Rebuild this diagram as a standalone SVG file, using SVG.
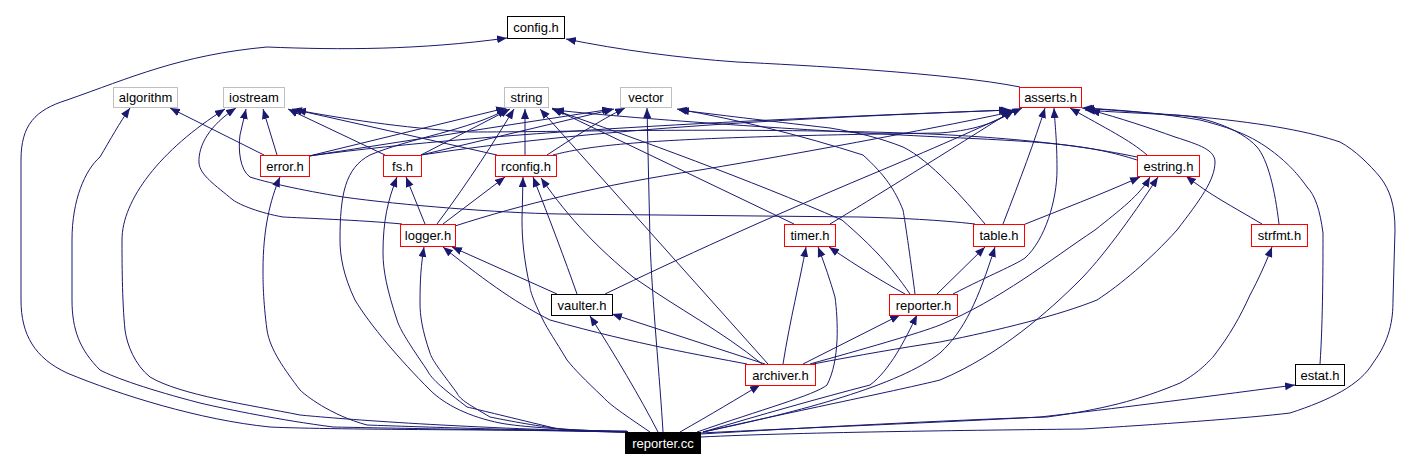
<svg xmlns="http://www.w3.org/2000/svg" width="1413" height="471" viewBox="0 0 1413 471">
<style>
.e{fill:none;stroke:#191970;stroke-width:1;marker-end:url(#ah)}
.n rect{fill:#fff;stroke-width:1}
.g rect{stroke:#bfbfbf}
.r rect{stroke:#ff0000}
.b rect{stroke:#000}
text{font-family:"Liberation Sans",Arial,sans-serif;font-size:13px;text-anchor:middle;fill:#000}
</style>
<defs>
<marker id="ah" markerUnits="userSpaceOnUse" markerWidth="12" markerHeight="9" refX="10" refY="4" orient="auto">
<path d="M0,0 L10,4 L0,8 z" fill="#191970"/>
</marker>
</defs>
<rect width="1413" height="471" fill="#fff"/>
<g id="edges">
<path class="e" d="M627,431 C560,430 330,430 270,427 C200,420 120,395 67,373 C35,358 21,335 21,300 L21,160 C21,125 35,110 67,100 C130,78 180,55 267,47 C340,50 420,50 507,38"/>
<path class="e" d="M1020,87 C950,73 800,65 737,62 C680,58 620,50 566,39"/>
<path class="e" d="M628,432 C500,430 380,428 333,427 C280,420 230,410 200,403 C150,390 115,378 100,370 C80,350 72,330 72,300 L72,240 C72,200 85,170 100,157 C110,140 120,122 130,108"/>
<path class="e" d="M264,155 L170,108"/>
<path class="e" d="M628,432 C450,428 330,418 300,415 C250,405 180,395 150,377 C135,365 127,345 125,330 C122,300 122,260 122,240 C122,200 160,150 225,109"/>
<path class="e" d="M402,224 C360,220 300,218 283,217 C260,213 240,205 233,200 C215,185 200,175 199,163 C198,145 210,125 236,108"/>
<path class="e" d="M975,224 C940,220 900,218 860,217 L560,214 C500,213 400,205 343,197 C300,190 265,182 250,177 C240,170 238,150 240,135 L246,109"/>
<path class="e" d="M277,155 L263,109"/>
<path class="e" d="M385,155 L288,109"/>
<path class="e" d="M497,155 L292,109"/>
<path class="e" d="M1137,157 C1080,145 1000,135 870,132 C700,128 560,132 470,132 C400,128 340,118 296,110"/>
<path class="e" d="M309,156 L506,108"/>
<path class="e" d="M309,156 L612,109"/>
<path class="e" d="M309,156 C500,130 800,118 1009,110"/>
<path class="e" d="M421,155 L510,109"/>
<path class="e" d="M421,155 L614,109"/>
<path class="e" d="M421,155 C600,128 800,118 1011,110"/>
<path class="e" d="M437,224 C470,180 495,140 514,109"/>
<path class="e" d="M525,155 L525,109"/>
<path class="e" d="M628,432 C570,430 520,427 500,423 C470,417 445,405 430,390 C400,360 370,325 355,300 C343,275 340,255 340,240 C340,195 345,168 370,155 C410,138 470,130 507,109"/>
<path class="e" d="M547,155 C570,140 600,120 625,108"/>
<path class="e" d="M553,155 C600,143 670,137 940,133 C980,130 1000,120 1013,111"/>
<path class="e" d="M425,224 L406,177"/>
<path class="e" d="M443,224 L505,177"/>
<path class="e" d="M455,226 C520,205 600,185 700,170 C820,150 950,125 1011,112"/>
<path class="e" d="M628,432 C520,430 420,427 367,425 C330,415 305,395 300,390 C285,370 270,350 267,330 C263,300 263,280 263,270 C263,230 270,200 280,177"/>
<path class="e" d="M628,432 C580,430 560,430 550,427 C500,415 480,410 467,407 C445,390 432,380 427,370 C410,345 400,330 397,320 C387,290 383,270 383,253 C383,220 388,200 397,177"/>
<path class="e" d="M628,432 C600,432 580,431 567,430 C530,425 505,420 490,417 C470,405 460,400 457,393 C440,370 432,360 430,353 C422,330 420,315 420,303 C420,280 421,265 424,247"/>
<path class="e" d="M650,432 C625,415 610,405 603,397 C585,380 575,370 567,360 C555,340 548,330 543,320 C533,300 530,290 530,287 C524,260 522,240 522,220 L523,177"/>
<path class="e" d="M577,294 C565,260 550,220 533,177"/>
<path class="e" d="M762,364 C720,330 680,310 633,277 C600,250 570,220 541,178"/>
<path class="e" d="M768,364 L540,109"/>
<path class="e" d="M747,364 C700,355 640,345 550,320 C520,305 490,285 443,247"/>
<path class="e" d="M557,294 L452,247"/>
<path class="e" d="M765,364 L612,314"/>
<path class="e" d="M658,432 C640,397 615,355 590,316"/>
<path class="e" d="M663,432 C660,380 652,300 650,240 L647,108"/>
<path class="e" d="M680,432 C710,415 740,397 760,385"/>
<path class="e" d="M783,364 C790,320 800,280 806,247"/>
<path class="e" d="M697,432 C760,410 815,395 827,385 C840,360 838,320 835,297 C830,280 825,265 818,247"/>
<path class="e" d="M905,294 C880,280 860,268 829,247"/>
<path class="e" d="M803,364 L900,315"/>
<path class="e" d="M703,432 C760,415 820,398 870,385 C890,370 905,340 917,315"/>
<path class="e" d="M937,294 L985,247"/>
<path class="e" d="M703,432 C800,412 900,385 940,353 C965,330 978,300 995,247"/>
<path class="e" d="M953,294 C990,275 1015,265 1025,258 C1045,240 1057,200 1057,170 C1057,140 1055,125 1054,108"/>
<path class="e" d="M1003,224 C1020,180 1035,140 1045,108"/>
<path class="e" d="M1023,225 C1060,210 1100,195 1140,177"/>
<path class="e" d="M1262,224 C1230,205 1210,195 1186,176"/>
<path class="e" d="M810,364 C860,350 920,333 940,325 C1000,300 1050,260 1095,230 C1120,210 1140,195 1150,177"/>
<path class="e" d="M703,432 C800,410 900,390 940,380 C1000,355 1050,310 1080,280 C1100,260 1130,220 1158,177"/>
<path class="e" d="M813,364 C860,355 900,348 940,342 C1000,330 1060,315 1097,300 C1120,285 1150,260 1177,230 C1200,200 1215,180 1215,162 C1215,150 1200,145 1175,137 C1150,128 1120,118 1090,110"/>
<path class="e" d="M1147,155 C1130,140 1105,128 1070,108"/>
<path class="e" d="M1279,224 C1275,190 1268,160 1257,147 C1240,128 1200,115 1173,115 C1140,113 1110,112 1085,110"/>
<path class="e" d="M1320,364 C1323,320 1323,260 1323,233 C1320,210 1315,195 1307,187 C1295,170 1285,162 1283,160 C1260,140 1240,130 1200,120 C1160,113 1120,110 1084,108"/>
<path class="e" d="M701,437 C800,432 1000,430 1083,429 C1150,425 1250,418 1290,413 C1330,400 1360,385 1373,363 C1390,340 1393,320 1393,300 L1395,230 C1395,205 1390,190 1380,177 C1370,165 1355,150 1340,142 C1310,132 1270,124 1200,117 C1150,113 1110,110 1082,108"/>
<path class="e" d="M701,434 C800,428 950,420 1047,417 C1100,410 1140,400 1180,383 C1200,372 1210,360 1213,357 C1230,335 1240,317 1250,295 C1258,280 1265,265 1272,247"/>
<path class="e" d="M701,433 C800,428 950,422 1040,417 C1120,408 1180,400 1295,385"/>
<path class="e" d="M794,224 L552,108"/>
<path class="e" d="M830,224 C870,200 950,150 1015,109"/>
<path class="e" d="M605,294 C680,258 763,220 870,175 C930,150 980,128 1022,108"/>
<path class="e" d="M910,294 C890,265 873,247 842,220 C750,180 640,140 552,109"/>
<path class="e" d="M915,294 C912,270 905,220 903,210 C895,190 885,175 863,155 C800,135 740,120 677,109"/>
<path class="e" d="M985,224 C965,200 930,160 903,147 C880,138 860,133 830,128 C760,120 720,115 679,110"/>
<path class="e" d="M1137,160 C1090,145 1053,142 940,137 C800,130 650,120 554,110"/>
</g>
<g id="config_h" class="n b"><rect x="507.5" y="16.5" width="57" height="22"/><text x="536" y="32">config.h</text></g>
<g id="algorithm" class="n g"><rect x="113.5" y="87.5" width="64" height="20"/><text x="145.5" y="102">algorithm</text></g>
<g id="iostream" class="n g"><rect x="223.5" y="87.5" width="61" height="20"/><text x="254" y="102">iostream</text></g>
<g id="string" class="n g"><rect x="504.5" y="87.5" width="44" height="20"/><text x="526.5" y="102">string</text></g>
<g id="vector" class="n g"><rect x="620.5" y="87.5" width="51" height="20"/><text x="646" y="102">vector</text></g>
<g id="asserts_h" class="n r"><rect x="1019.5" y="87.5" width="62" height="20"/><text x="1050.5" y="102">asserts.h</text></g>
<g id="error_h" class="n r"><rect x="260.5" y="155.5" width="49" height="21"/><text x="285" y="170.5">error.h</text></g>
<g id="fs_h" class="n r"><rect x="383.5" y="155.5" width="38" height="21"/><text x="402.5" y="170.5">fs.h</text></g>
<g id="rconfig_h" class="n r"><rect x="495.5" y="155.5" width="61" height="21"/><text x="526" y="170.5">rconfig.h</text></g>
<g id="estring_h" class="n r"><rect x="1137.5" y="155.5" width="62" height="21"/><text x="1168.5" y="170.5">estring.h</text></g>
<g id="logger_h" class="n r"><rect x="400.5" y="224.5" width="55" height="22"/><text x="428" y="240">logger.h</text></g>
<g id="timer_h" class="n r"><rect x="784.5" y="224.5" width="51" height="22"/><text x="810" y="240">timer.h</text></g>
<g id="table_h" class="n r"><rect x="973.5" y="224.5" width="51" height="22"/><text x="999" y="240">table.h</text></g>
<g id="strfmt_h" class="n r"><rect x="1251.5" y="224.5" width="56" height="22"/><text x="1279.5" y="240">strfmt.h</text></g>
<g id="vaulter_h" class="n b"><rect x="551.5" y="294.5" width="61" height="21"/><text x="582" y="309.5">vaulter.h</text></g>
<g id="reporter_h" class="n r"><rect x="889.5" y="294.5" width="68" height="21"/><text x="923.5" y="309.5">reporter.h</text></g>
<g id="archiver_h" class="n r"><rect x="745.5" y="364.5" width="70" height="21"/><text x="780.5" y="379.5">archiver.h</text></g>
<g id="estat_h" class="n b"><rect x="1295.5" y="364.5" width="49" height="21"/><text x="1320" y="379.5">estat.h</text></g>
<g id="reporter_cc"><rect x="625" y="432" width="76" height="22" fill="#000"/><text x="663" y="448" fill="#fff" style="fill:#fff">reporter.cc</text></g>
</svg>
